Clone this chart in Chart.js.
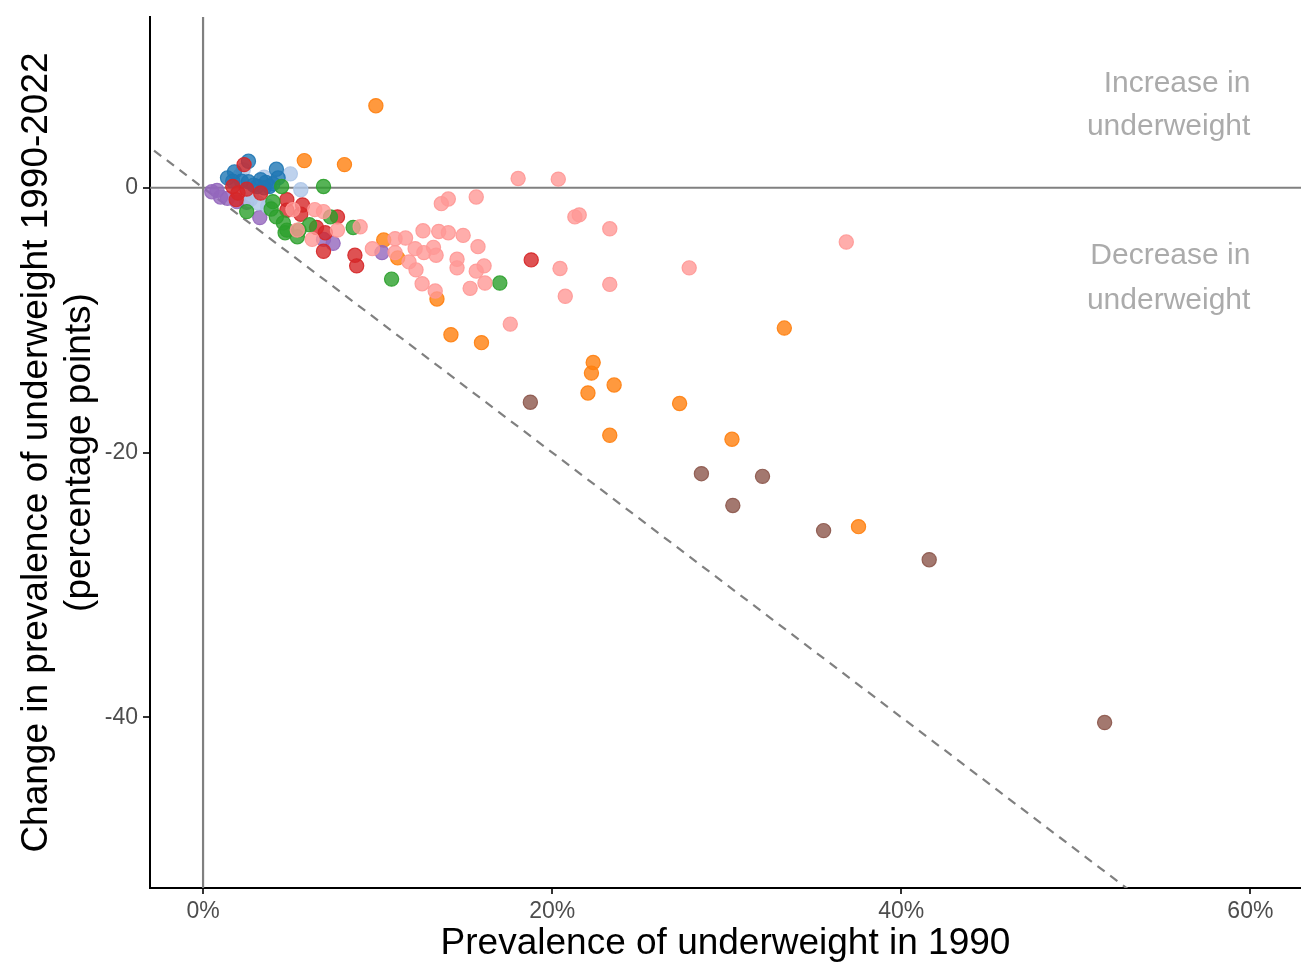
<!DOCTYPE HTML>
<html>
<head>
  <title>Change in underweight prevalence</title>
  <script src="https://cdn.jsdelivr.net/npm/chart.js@4/dist/chart.umd.min.js"></script>
  <style>
    body { margin: 0; background: #fff; }
  </style>
</head>
<body>
<canvas id="myChart" width="1301" height="965"></canvas>

<script>
  // prevalence in 1990 (%) and change 1990-2022 (percentage points), one pair of arrays per colour group
  const blueX = [2.6, 1.4, 1.8, 4.2, 3.6, 3.3, 2.6, 4.3, 3.1, 3.8, 2.2, 1.7, 4.0, 3.5, 2.9];
  const blueY = [2.0, 0.75, 1.2, 1.4, 0.4, 0.6, 0.45, 0.75, 0.1, 0.1, 0.5, 0.5, 0.3, 0.0, 0.2];

  const lightBlueX = [2.3, 5.0, 5.6, 2.7, 3.15, 3.7, 2.1, 3.5, 2.0, 2.8];
  const lightBlueY = [1.35, 1.05, -0.15, -0.9, -1.15, -1.4, 0.9, 0.8, 0.0, -0.5];

  const redX = [2.35, 1.7, 2.0, 4.8, 5.7, 4.8, 5.6, 7.7, 6.5, 7.0, 6.9, 8.7, 8.8, 18.8, 2.5, 3.3, 1.9];
  const redY = [1.75, 0.1, -0.4, -0.9, -1.3, -1.7, -2.0, -2.2, -3.0, -3.4, -4.8, -5.1, -5.9, -5.45, -0.1, -0.4, -0.9];

  const greenX = [4.5, 6.9, 4.0, 2.5, 4.2, 4.6, 4.8, 4.7, 5.4, 7.3, 8.6, 6.1, 10.8, 17.0, 5.5, 3.9];
  const greenY = [0.1, 0.1, -1.05, -1.8, -2.2, -2.65, -3.2, -3.4, -3.7, -2.2, -3.0, -2.8, -6.9, -7.2, -3.2, -1.6];

  const pinkX = [18.05, 20.35, 15.65, 14.05, 13.65, 21.3, 21.55, 23.3, 14.9, 15.75, 14.55, 14.55, 15.65, 16.1,
                 16.15, 15.3, 20.45, 20.75, 23.3, 27.85, 17.6, 36.85, 9.0, 9.7, 11.0, 11.6, 12.6, 13.5, 14.05,
                 12.15, 13.2, 12.65, 13.35, 11.0, 11.8, 12.2, 12.55, 13.3, 6.4, 6.9, 5.15, 5.4, 6.25, 7.7];
  const pinkY = [0.7, 0.65, -0.7, -0.85, -1.2, -2.2, -2.05, -3.1, -3.6, -4.45, -5.4, -6.05, -6.3, -5.9,
                 -7.2, -7.6, -6.1, -8.2, -7.3, -6.05, -10.3, -4.1, -2.95, -4.6, -3.85, -3.8, -3.25, -3.3, -3.4,
                 -4.6, -4.5, -4.9, -5.1, -4.9, -5.6, -6.2, -7.25, -7.8, -1.65, -1.8, -1.65, -3.2, -3.9, -3.2];

  const purpleX = [0.5, 1.0, 1.95, 1.4, 3.25, 6.9, 7.45, 10.25, 2.5, 0.8];
  const purpleY = [-0.3, -0.7, -1.05, -0.8, -2.25, -3.9, -4.2, -4.9, -1.1, -0.2];

  const orangeX = [9.9, 5.8, 8.1, 10.35, 11.15, 13.4, 14.2, 15.95, 33.3, 22.35, 22.25, 23.55, 22.05, 27.3, 23.3, 30.3, 37.55];
  const orangeY = [6.2, 2.05, 1.75, -3.95, -5.3, -8.4, -11.1, -11.7, -10.6, -13.2, -14.0, -14.9, -15.5, -16.3, -18.7, -19.0, -25.6];

  const brownX = [18.75, 28.55, 32.05, 30.35, 35.55, 41.6, 51.65];
  const brownY = [-16.2, -21.6, -21.8, -24.0, -25.9, -28.1, -40.4];

  // reference line where the change equals minus the 1990 prevalence (everything gone)
  const diagX = [-5, 65];
  const diagY = [5, -65];

  const xTicks = [0, 20, 40, 60];
  const yTicks = [-40, -20, 0];

  const notes = [
    { text: 'Increase in', y: 7.85 },
    { text: 'underweight', y: 4.6 },
    { text: 'Decrease in', y: -5.15 },
    { text: 'underweight', y: -8.5 }
  ];

  const family = '"Liberation Sans", Arial, sans-serif';

  function pts(xs, ys) {
    return xs.map((x, i) => ({ x: x, y: ys[i] }));
  }

  function group(xs, ys, r, g, b) {
    return {
      data: pts(xs, ys),
      backgroundColor: `rgba(${r}, ${g}, ${b}, 0.8)`,
      borderColor: `rgba(${r}, ${g}, ${b}, 0.9)`,
      borderWidth: 1.2,
      pointRadius: 7.1,
      order: 1
    };
  }

  function refLine(data, dash) {
    return {
      type: 'line',
      data: data,
      showLine: true,
      borderColor: '#808080',
      borderWidth: 2.2,
      borderDash: dash,
      pointRadius: 0,
      fill: false,
      order: 5
    };
  }

  const datasets = [
    group(pinkX, pinkY, 255, 152, 150),
    group(greenX, greenY, 44, 160, 44),
    group(redX, redY, 214, 39, 40),
    group(blueX, blueY, 31, 119, 180),
    group(lightBlueX, lightBlueY, 174, 199, 232),
    group(purpleX, purpleY, 148, 103, 189),
    group(orangeX, orangeY, 255, 127, 14),
    group(brownX, brownY, 140, 86, 75),
    refLine(pts(diagX, diagY), [9, 7]),
    refLine([{ x: 0, y: -60 }, { x: 0, y: 20 }], []),
    refLine([{ x: -5, y: 0 }, { x: 70, y: 0 }], [])
  ];

  const notePlugin = {
    id: 'notes',
    afterDraw(chart) {
      const ctx = chart.ctx;
      const xs = chart.scales.x, ys = chart.scales.y;
      ctx.save();
      ctx.font = '30px ' + family;
      ctx.fillStyle = '#ababab';
      ctx.textAlign = 'right';
      ctx.textBaseline = 'middle';
      notes.forEach(n => ctx.fillText(n.text, xs.getPixelForValue(60), ys.getPixelForValue(n.y)));
      ctx.restore();
    }
  };

  const config = {
    type: 'scatter',
    data: { datasets: datasets },
    plugins: [notePlugin],
    options: {
      responsive: false,
      animation: false,
      layout: { autoPadding: false, padding: { top: 17, right: 0, left: 0, bottom: 0 } },
      plugins: {
        legend: { display: false },
        tooltip: { enabled: false }
      },
      scales: {
        x: {
          type: 'linear',
          min: -3.04,
          max: 62.9,
          afterFit: s => { s.height = 77; s.paddingLeft = 0; s.paddingRight = 0; },
          afterBuildTicks: s => { s.ticks = xTicks.map(v => ({ value: v })); },
          ticks: {
            callback: v => v + '%',
            color: '#4d4d4d',
            font: { size: 23, family: family },
            padding: 4,
            maxRotation: 0
          },
          grid: { drawOnChartArea: false, tickLength: 6, color: '#333333', lineWidth: 2 },
          border: { color: '#000000', width: 2 },
          title: {
            display: true,
            text: 'Prevalence of underweight in 1990',
            color: '#000000',
            font: { size: 37, family: family, lineHeight: 1.15 },
            padding: 0
          }
        },
        y: {
          type: 'linear',
          min: -52.9,
          max: 12.9,
          afterFit: s => { s.width = 150; s.paddingTop = 0; s.paddingBottom = 0; },
          afterBuildTicks: s => { s.ticks = yTicks.map(v => ({ value: v })); },
          ticks: {
            color: '#4d4d4d',
            font: { size: 23, family: family },
            padding: 5
          },
          grid: { drawOnChartArea: false, tickLength: 7, color: '#333333', lineWidth: 2 },
          border: { color: '#000000', width: 2 },
          title: {
            display: true,
            text: ['Change in prevalence of underweight 1990-2022', '(percentage points)'],
            color: '#000000',
            font: { size: 37, family: family, lineHeight: 1.15 },
            padding: { top: 16, bottom: 0 }
          }
        }
      }
    }
  };

  const myChart = new Chart(document.getElementById('myChart'), config);
</script>
</body>
</html>
